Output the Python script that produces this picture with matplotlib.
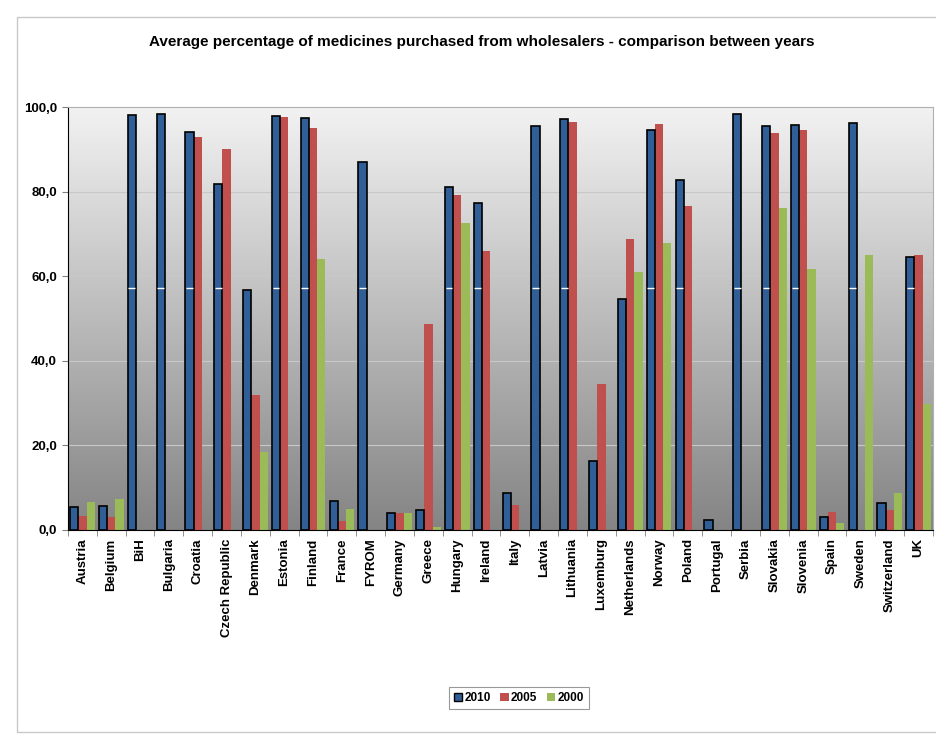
import numpy as np
import matplotlib
matplotlib.use('Agg')
import matplotlib.pyplot as plt
from matplotlib.patches import Rectangle, Patch

plt.rcParams['font.family'] = ['Liberation Sans', 'DejaVu Sans']

countries = ['Austria', 'Belgium', 'BiH', 'Bulgaria', 'Croatia', 'Czech Republic',
             'Denmark', 'Estonia', 'Finland', 'France', 'FYROM', 'Germany', 'Greece',
             'Hungary', 'Ireland', 'Italy', 'Latvia', 'Lithuania', 'Luxemburg',
             'Netherlands', 'Norway', 'Poland', 'Portugal', 'Serbia', 'Slovakia',
             'Slovenia', 'Spain', 'Sweden', 'Switzerland', 'UK']

# NaN = no data for that year
v2010 = [5.5, 5.7, 98.2, 98.4, 94.0, 81.7, 56.7, 97.8, 97.3, 6.9, 86.9, 4.0, 4.8,
         81.2, 77.2, 8.8, 95.6, 97.1, 16.4, 54.7, 94.6, 82.8, 2.3, 98.3, 95.6,
         95.8, 3.0, 96.1, 6.5, 64.5]
v2005 = [3.3, 3.1, np.nan, np.nan, 92.9, 90.0, 31.8, 97.6, 95.0, 2.2, np.nan, 4.1, 48.7,
         79.1, 66.0, 5.8, np.nan, 96.5, 34.5, 68.8, 96.0, 76.7, np.nan, np.nan, 93.8,
         94.6, 4.3, np.nan, 4.8, 65.0]
v2000 = [6.6, 7.3, np.nan, np.nan, np.nan, np.nan, 18.5, np.nan, 64.0, 5.0, np.nan, 4.1, 0.8,
         72.5, np.nan, np.nan, np.nan, np.nan, np.nan, 61.1, 67.8, np.nan, np.nan, np.nan, 76.1,
         61.8, 1.7, 65.0, 8.8, 29.8]
years = ['2010', '2005', '2000']
colors = ['#2F5F96', '#C0504D', '#9BBB59']

fig = plt.figure(figsize=(9.37, 7.34), dpi=100)
W, H = 937, 734

# outer chart border
fig.add_artist(Rectangle((17 / W, 2 / H), 1.0, (H - 17) / H - 2 / H,
                         transform=fig.transFigure, fill=False,
                         edgecolor='#c8c8c8', linewidth=1.0))

ax = fig.add_axes([68 / W, 1 - 530 / H, (933 - 68) / W, (530 - 107) / H])

n = len(countries)
x = np.arange(n)
bw = 0.287

# gradient background
grad = np.linspace(0, 1, 256).reshape(-1, 1)
ax.imshow(grad, extent=(-0.5, n - 0.5, 0, 100), aspect='auto', origin='upper',
          cmap=matplotlib.colors.LinearSegmentedColormap.from_list('bg', ['#f2f2f2', '#848484']),
          zorder=0)

for y in [20, 40, 60, 80]:
    ax.axhline(y, color='#c8c8c8', linewidth=0.8, zorder=1)

ax.bar(x - bw, v2010, bw, color=colors[0], edgecolor='black', linewidth=1.2, zorder=3)
ax.bar(x, v2005, bw, color=colors[1], edgecolor='none', zorder=2)
ax.bar(x + bw, v2000, bw, color=colors[2], edgecolor='none', zorder=2)

# white render artefact on tall 2010 bars
tall = np.array(v2010) > 57.2
ax.hlines(np.full(tall.sum(), 57.2), x[tall] - 1.4 * bw, x[tall] - 0.6 * bw,
          color='white', linewidth=1.0, zorder=4)

ax.set_xlim(-0.5, n - 0.5)
ax.set_ylim(0, 100)
ax.set_yticks([0, 20, 40, 60, 80, 100])
ax.set_yticklabels(['0,0', '20,0', '40,0', '60,0', '80,0', '100,0'],
                   fontsize=9.5, fontweight='bold')
ax.set_xticks(x)
ax.set_xticklabels(countries, rotation=90, fontsize=9.5, fontweight='bold')
ax.tick_params(axis='x', length=0, pad=6)
ax.set_xticks(np.arange(n + 1) - 0.5, minor=True)
ax.tick_params(axis='x', which='minor', length=4, color='#808080')
ax.tick_params(axis='y', length=4, color='#808080', pad=4)

for s in ['top', 'right']:
    ax.spines[s].set_color('#b0b0b0')
ax.spines['left'].set_color('black')
ax.spines['bottom'].set_color('black')

fig.text(482 / W, 1 - 42 / H, 'Average percentage of medicines purchased from wholesalers - comparison between years',
         ha='center', va='center', fontsize=11, fontweight='bold')

handles = [Patch(facecolor=colors[0], edgecolor='black', linewidth=1.0),
           Patch(facecolor=colors[1], edgecolor='none'),
           Patch(facecolor=colors[2], edgecolor='none')]
leg = fig.legend(handles, years, loc='center', bbox_to_anchor=(519 / W, 1 - 698 / H),
                 ncol=3, frameon=True, fancybox=False, prop={'weight': 'bold', 'size': 8.5},
                 handlelength=0.7, handleheight=0.7, handletextpad=0.2, columnspacing=0.8,
                 borderpad=0.4)
leg.get_frame().set_edgecolor('#808080')
leg.get_frame().set_linewidth(0.8)

fig.savefig('out.png', dpi=100)
